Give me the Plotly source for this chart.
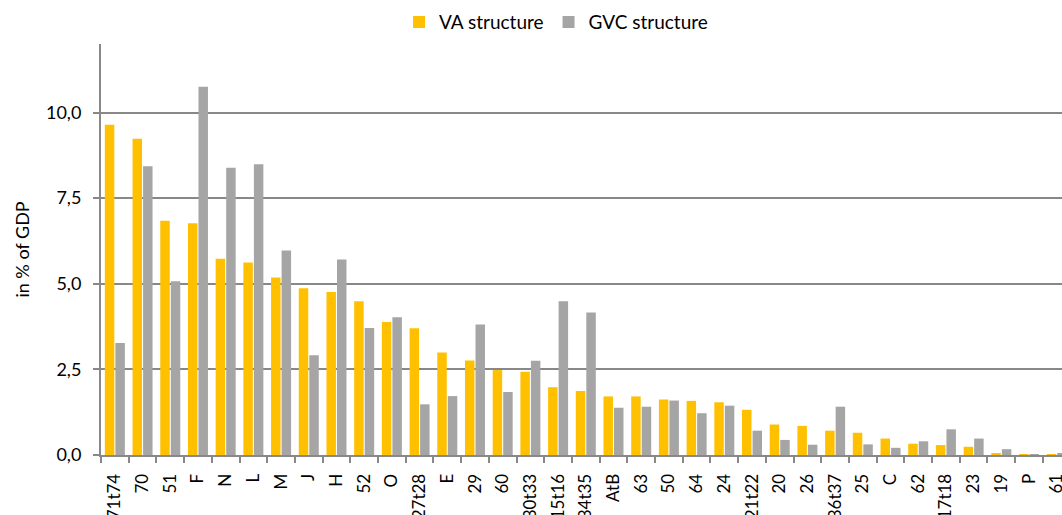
import plotly.graph_objects as go

categories = ["71t74", "70", "51", "F", "N", "L", "M", "J", "H", "52", "O", "27t28", "E", "29",
              "60", "30t33", "15t16", "34t35", "AtB", "63", "50", "64", "24", "21t22", "20", "26",
              "36t37", "25", "C", "62", "17t18", "23", "19", "P", "61"]
va_structure = [9.64, 9.23, 6.84, 6.77, 5.73, 5.62, 5.18, 4.87, 4.76, 4.49, 3.88, 3.70, 2.99, 2.76,
                2.48, 2.43, 1.98, 1.87, 1.71, 1.71, 1.62, 1.58, 1.54, 1.32, 0.89, 0.85,
                0.71, 0.65, 0.48, 0.33, 0.29, 0.24, 0.04, 0.01, 0.01]
gvc_structure = [3.27, 8.43, 5.07, 10.75, 8.39, 8.49, 5.97, 2.91, 5.71, 3.71, 4.02, 1.48, 1.72, 3.81,
                 1.84, 2.75, 4.49, 4.16, 1.38, 1.41, 1.59, 1.22, 1.44, 0.71, 0.44, 0.30,
                 1.41, 0.31, 0.21, 0.40, 0.75, 0.48, 0.17, 0.01, 0.04]
y_ticks = [0, 2.5, 5, 7.5, 10]

font_family = "Lato, 'Open Sans', sans-serif"

fig = go.Figure()
fig.add_trace(go.Bar(name="VA structure", x=categories, y=va_structure,
                     marker=dict(color="#FFC000", line=dict(width=0))))
fig.add_trace(go.Bar(name="GVC structure", x=categories, y=gvc_structure,
                     marker=dict(color="#A5A5A5", line=dict(width=0))))

fig.update_layout(
    width=1062, height=515,
    margin=dict(l=101, r=0, t=44, b=60, autoexpand=False),
    paper_bgcolor="white", plot_bgcolor="white",
    barmode="group", bargap=0.24, bargroupgap=0.1,
    separators=", ",
    font=dict(family=font_family, size=18, color="#000000"),
    legend=dict(orientation="h", x=0.4735, xanchor="center",
                yref="container", y=0.957, yanchor="middle",
                font=dict(size=19), itemwidth=30, traceorder="normal"),
    xaxis=dict(range=[-0.5, 34.19], tickangle=-90, tickson="boundaries",
               ticks="outside", ticklen=6, tickcolor="#888888", tickwidth=2,
               showline=True, linecolor="#888888", linewidth=2,
               showgrid=False, tickfont=dict(size=17), ticklabelstandoff=10,
               automargin=False),
    yaxis=dict(range=[0, 12], tickvals=y_ticks, tickformat=".1f",
               ticks="outside", ticklen=6, tickcolor="#888888", tickwidth=2,
               showline=True, linecolor="#888888", linewidth=2,
               showgrid=True, gridcolor="#888888", gridwidth=2,
               zeroline=False, ticklabelstandoff=8, automargin=False,
               title=dict(text="in % of GDP", font=dict(size=18), standoff=12),
               tickfont=dict(size=18)),
)

fig.write_html("out.html", config={"displayModeBar": False},
               post_script="document.body.style.margin='0';document.body.style.overflow='hidden';")
